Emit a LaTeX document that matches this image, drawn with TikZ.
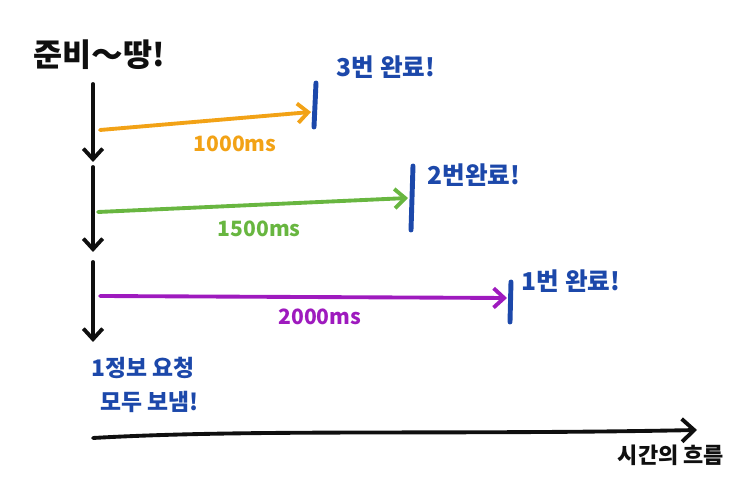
\documentclass[tikz,border=0pt]{standalone}
\usepackage{fontspec}
\newfontfamily\krfont{Noto Sans CJK KR}
\usepackage{tikz}
\usetikzlibrary{arrows.meta}
\definecolor{inkblack}{RGB}{15,15,15}
\definecolor{inkorange}{RGB}{242,162,22}
\definecolor{inkgreen}{RGB}{104,182,64}
\definecolor{inkpurple}{RGB}{158,26,190}
\definecolor{inkblue}{RGB}{28,72,170}

\begin{document}
\begin{tikzpicture}[x=0.02cm,y=-0.02cm,
    pen/.style={line width=2.2pt,line cap=round,line join=round},
    flow/.style={pen,-{Straight Barb[length=6pt,width=11pt]}},
    done/.style={pen,inkblue,line width=2.8pt},
    memo/.style={font=\krfont\bfseries\fontsize{14}{19}\selectfont,text=inkblue,inner sep=0pt},
    dur/.style={font=\krfont\bfseries\fontsize{12}{14}\selectfont,inner sep=1pt}]
    \useasboundingbox (0,0) rectangle (752,486);
    % start and end points
    \coordinate (v0) at (93,84);
    \coordinate (v1) at (93,162);
    \coordinate (v1b) at (93,167);
    \coordinate (v2) at (93,252);
    \coordinate (v2b) at (93,262);
    \coordinate (v3) at (93,342);
    \coordinate (o0) at (100,130);
    \coordinate (o1) at (311,112);
    \coordinate (g0) at (98,212);
    \coordinate (g1) at (408,198);
    \coordinate (p0) at (100,296);
    \coordinate (p1) at (507,298);
    \coordinate (t0) at (93,438);
    \coordinate (t1) at (697,430);
    % end marks
    \coordinate (b1t) at (316,83);
    \coordinate (b1b) at (314,127);
    \coordinate (b2t) at (413,166);
    \coordinate (b2b) at (411,230);
    \coordinate (b3t) at (511,282);
    \coordinate (b3b) at (510,322);
    % texts
    \node[font=\krfont\bfseries\fontsize{18}{20}\selectfont,text=inkblack] (ready) at (99,55) {준비～땅!};
    \node[memo] (done3) at (386,67) {3번 완료!};
    \node[memo] (done2) at (474,175) {2번완료!};
    \node[memo] (done1) at (571,281) {1번 완료!};
    \node[memo,align=left,font=\krfont\bfseries\fontsize{13}{19}\selectfont] (sent) at (145,385) {1정보 요청\\\hspace{5pt}모두 보냄!};
    \node[font=\krfont\bfseries\fontsize{12.5}{14}\selectfont,text=inkblack] (flowtime) at (671,455) {시간의 흐름};
    % vertical lines
    \draw[flow,inkblack] (v0) -- (v1);
    \draw[flow,inkblack] (v1b) -- (v2);
    \draw[flow,inkblack] (v2b) -- (v3);
    % horizontal lines
    \draw[flow,inkorange] (o0) -- node[dur,pos=0.64,below=8pt,text=inkorange] (lab1) {1000ms} (o1);
    \draw[flow,inkgreen] (g0) -- node[dur,pos=0.52,below=7pt,text=inkgreen] (lab2) {1500ms} (g1);
    \draw[flow,inkpurple] (p0) -- node[dur,pos=0.54,below=4.5pt,text=inkpurple] (lab3) {2000ms} (p1);
    \draw[done] (b1t) -- (b1b);
    \draw[done] (b2t) -- (b2b);
    \draw[done] (b3t) -- (b3b);
    % time axis
    \draw[pen,inkblack,-{Straight Barb[length=7pt,width=13pt]}] (t0) .. controls (250,429) and (450,435) .. (t1);
\end{tikzpicture}
\end{document}
